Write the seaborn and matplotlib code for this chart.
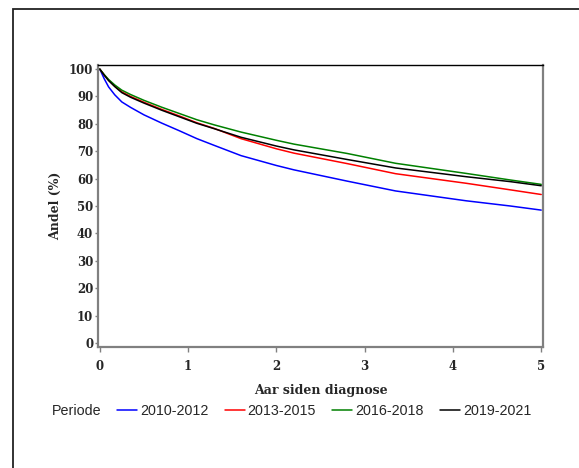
import matplotlib
matplotlib.use("Agg")
import matplotlib.pyplot as plt
import seaborn as sns
import pandas as pd
from matplotlib.patches import Rectangle

# ---- data ----
years = [0, 0.05, 0.1, 0.17, 0.25, 0.35, 0.5, 0.7, 0.9, 1.1, 1.3, 1.6, 2.0, 2.2, 2.8, 3.35, 4.15, 4.65, 5.0]
p2010_2012 = [100, 96.5, 93.5, 90.6, 88.0, 86.0, 83.3, 80.3, 77.5, 74.6, 72.1, 68.4, 64.8, 63.2, 59.1, 55.5, 51.9, 50.0, 48.5]
p2013_2015 = [100, 97.9, 96.0, 93.8, 91.7, 90.0, 87.9, 85.3, 82.9, 80.4, 78.3, 74.6, 70.9, 69.3, 65.5, 61.8, 58.3, 55.9, 54.2]
p2016_2018 = [100, 98.0, 96.2, 94.2, 92.3, 90.7, 88.6, 86.1, 83.8, 81.5, 79.6, 77.0, 74.0, 72.6, 69.2, 65.6, 61.9, 59.5, 57.9]
p2019_2021 = [100, 97.8, 95.8, 93.6, 91.4, 89.7, 87.6, 85.0, 82.6, 80.2, 78.2, 75.1, 71.9, 70.5, 67.0, 63.9, 60.7, 58.9, 57.4]
periods = ["2010-2012", "2013-2015", "2016-2018", "2019-2021"]
series = [p2010_2012, p2013_2015, p2016_2018, p2019_2021]
colors = {"2010-2012": "#0000ff", "2013-2015": "#ff0000", "2016-2018": "#008000", "2019-2021": "#000000"}
xticks = [0, 1, 2, 3, 4, 5]
yticks = list(range(0, 101, 10))

rows = []
for per, vals in zip(periods, series):
    for t, v in zip(years, vals):
        rows.append({"Aar": t, "Andel": v, "Periode": per})
df = pd.DataFrame(rows)

sns.set_theme(style="white")
plt.rcParams["font.family"] = ["DejaVu Serif"]

fig = plt.figure(figsize=(5.79, 4.68), dpi=100)
ax = fig.add_axes([98 / 579, 1 - 347 / 468, (543 - 98) / 579, (347 - 65) / 468])

sns.lineplot(data=df, x="Aar", y="Andel", hue="Periode", hue_order=periods,
             palette=colors, estimator=None, linewidth=1.1, ax=ax)

ax.set_xlim(-0.02, 5.02)
ax.set_ylim(-1.5, 101.5)
ax.set_xticks(xticks)
ax.set_yticks(yticks)
ax.set_xticklabels([str(v) for v in xticks], fontweight="bold", fontsize=8.5)
ax.set_yticklabels([str(v) for v in yticks], fontweight="bold", fontsize=8.5)
ax.tick_params(axis="x", direction="out", length=3.5, width=1, color="#808080", pad=6, bottom=True)
ax.tick_params(axis="y", direction="out", length=2.5, width=1, color="#808080", pad=1, left=True)

for side in ["left", "bottom", "right"]:
    ax.spines[side].set_color("#808080")
    ax.spines[side].set_linewidth(1.6)
ax.spines["top"].set_color("#000000")
ax.spines["top"].set_linewidth(1.0)

ax.set_xlabel("Aar siden diagnose", fontweight="bold", fontsize=9, labelpad=8)
ax.set_ylabel("Andel (%)", fontweight="bold", fontsize=9, labelpad=5)

sns.move_legend(ax, "center left", bbox_to_anchor=(117 / 579, 1 - 411 / 468),
                bbox_transform=fig.transFigure, ncol=4, title=None, frameon=False,
                prop={"family": "Liberation Sans", "size": 10.3}, handlelength=1.4,
                handletextpad=0.2, columnspacing=1.15, borderpad=0, borderaxespad=0)
fig.text(52 / 579, 1 - 411 / 468, "Periode", family="Liberation Sans", fontsize=10.3,
         va="center", ha="left")

# outer frame
fig.patches.append(Rectangle((13 / 579, -0.5), 2.0, 0.5 + (1 - 9 / 468), transform=fig.transFigure,
                             fill=False, edgecolor="#222222", linewidth=1.3))

fig.savefig("out.png", dpi=100)
